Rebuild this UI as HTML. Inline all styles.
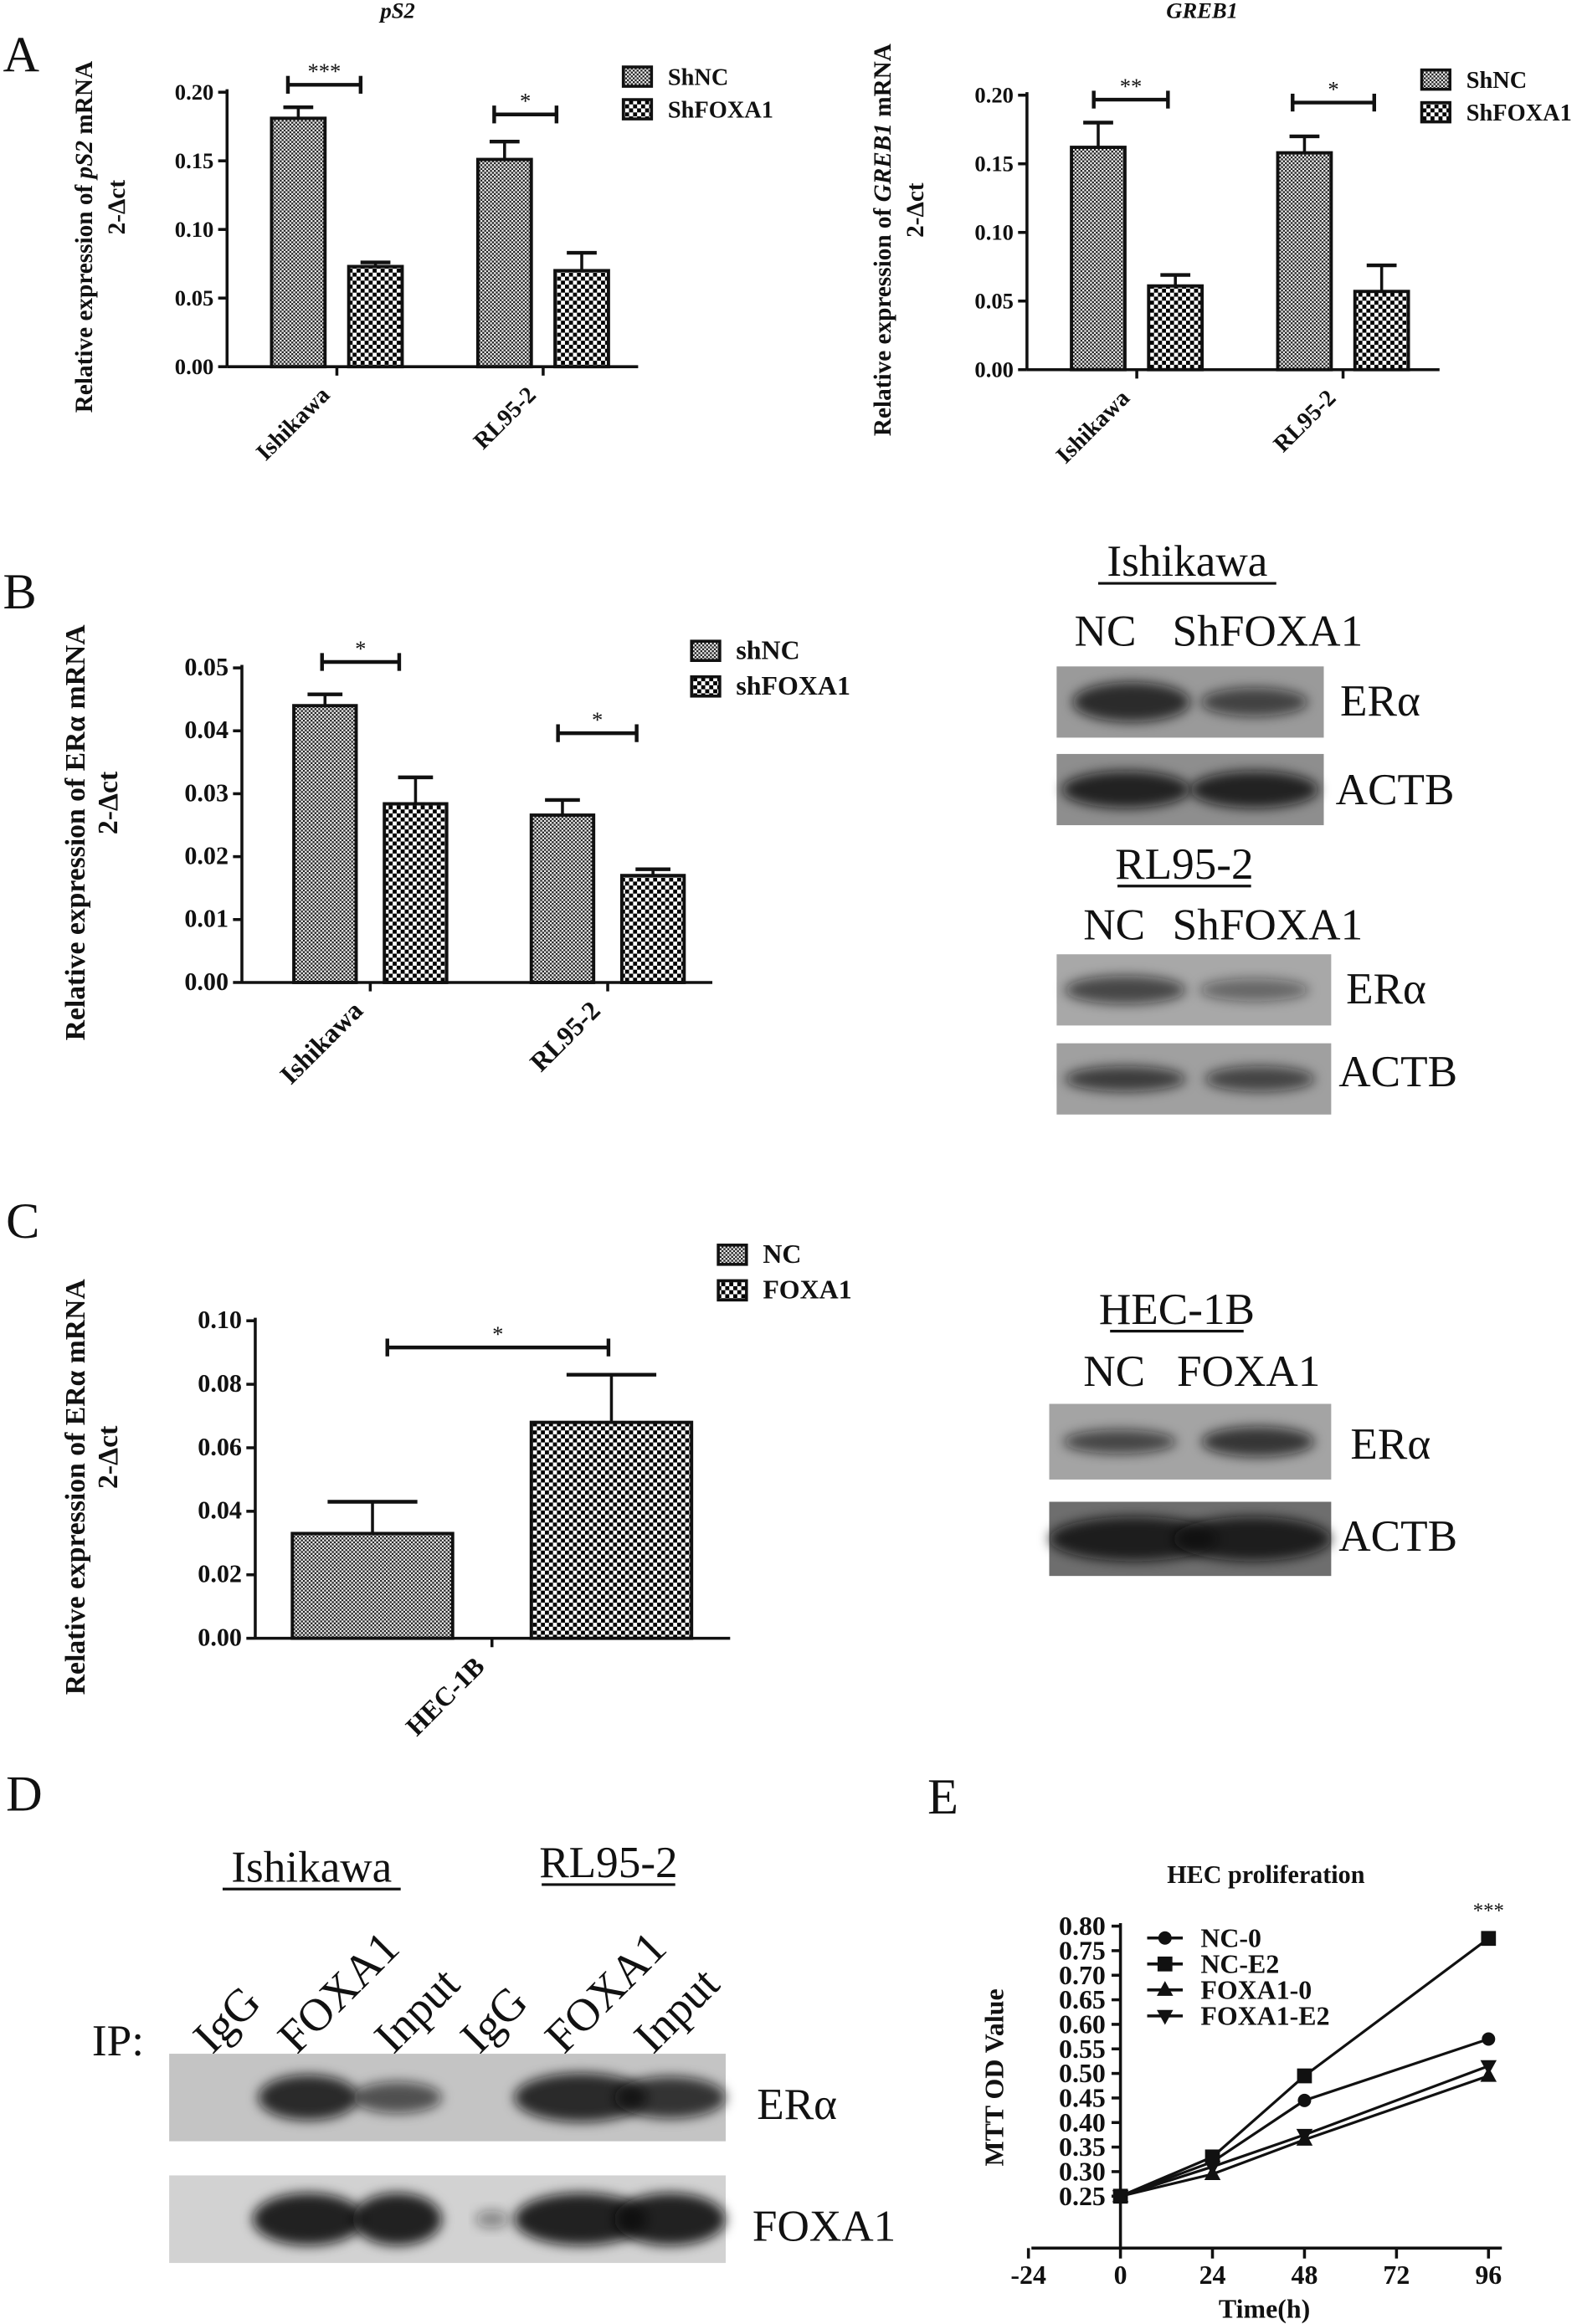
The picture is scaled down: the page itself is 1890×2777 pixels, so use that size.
<!DOCTYPE html>
<html><head><meta charset="utf-8"><style>
html,body{margin:0;padding:0;background:#fff}
svg{display:block}
text{font-family:"Liberation Serif",serif;fill:#111}
.b{font-weight:bold}
</style></head><body>
<svg id="fig" width="1890" height="2777" viewBox="0 0 1066 1566" xmlns="http://www.w3.org/2000/svg">
<defs>
<pattern id="fine" patternUnits="userSpaceOnUse" width="2.6" height="2.6"><rect width="2.6" height="2.6" fill="#eee"/><rect width="1.3" height="1.3" fill="#222"/><rect x="1.3" y="1.3" width="1.3" height="1.3" fill="#222"/></pattern>
<pattern id="coarse" patternUnits="userSpaceOnUse" width="5.4" height="5.4"><rect width="5.4" height="5.4" fill="#fff"/><rect width="2.7" height="2.7" fill="#000"/><rect x="2.7" y="2.7" width="2.7" height="2.7" fill="#000"/></pattern>
<filter id="blur" x="-20%" y="-50%" width="140%" height="200%"><feGaussianBlur stdDeviation="4"/></filter>
</defs>
<g id="root"></g>
</svg>
<script>
// ---------- data ----------
const catsA = ["Ishikawa","RL95-2"];
const pS2_nc = [0.181,0.151], pS2_nc_err=[0.189,0.164];
const pS2_sh = [0.073,0.070], pS2_sh_err=[0.076,0.083];
const greb_nc = [0.162,0.158], greb_nc_err=[0.180,0.170];
const greb_sh = [0.061,0.057], greb_sh_err=[0.069,0.076];
const ticksA = [0,0.05,0.10,0.15,0.20];
const erB_nc=[0.044,0.0266], erB_nc_err=[0.0458,0.029];
const erB_sh=[0.0284,0.017], erB_sh_err=[0.0326,0.018];
const ticksB=[0,0.01,0.02,0.03,0.04,0.05];
const catsC=["HEC-1B"];
const erC_nc=[0.033], erC_nc_err=[0.043];
const erC_fx=[0.068], erC_fx_err=[0.083];
const ticksC=[0,0.02,0.04,0.06,0.08,0.10];
const timesE=[0,24,48,96];
const nc0=[0.25,0.32,0.445,0.57];
const ncE2=[0.25,0.33,0.495,0.775];
const fx0=[0.25,0.295,0.365,0.495];
const fxE2=[0.25,0.31,0.375,0.515];
const ticksEy=[0.25,0.30,0.35,0.40,0.45,0.50,0.55,0.60,0.65,0.70,0.75,0.80];
const ticksEx=[-24,0,24,48,72,96];

const NS="http://www.w3.org/2000/svg";
const root=document.getElementById('root');
function el(tag,attrs,parent,txt){const e=document.createElementNS(NS,tag);for(const k in attrs)e.setAttribute(k,attrs[k]);if(txt!==undefined)e.textContent=txt;(parent||root).appendChild(e);return e;}
function line(x1,y1,x2,y2,w,p){return el('line',{x1,y1,x2,y2,stroke:'#111','stroke-width':w||2},p);}
function txt(x,y,s,size,p,extra){const a={x,y,'font-size':size};Object.assign(a,extra||{});return el('text',a,p,s);}

function barChart(o){
  const g=el('g',{});
  
  
  const ys=v=>o.y0-(v-o.ticks[0])/(o.ticks[o.ticks.length-1]-o.ticks[0])*(o.y0-o.ytop);
  line(o.ax,o.ytop-2,o.ax,o.y0,2,g);
  line(o.ax,o.y0,o.axEnd,o.y0,2,g);
  o.ticks.forEach(t=>{const y=ys(t);line(o.ax-6,y,o.ax,y,2,g);
    const tl=txt(o.ax-9,y+5,t.toFixed(o.dec),o.fs,g,{'text-anchor':'end','class':'b'});
    });
  o.series.forEach((s,si)=>{
    s.vals.forEach((v,i)=>{
      const x=o.x0+i*o.groupW+si*o.barStep;
      const ex=x+o.bw/2;
      line(ex,ys(s.err[i]),ex,ys(v),2,g);
      line(ex-o.bw*0.28,ys(s.err[i]),ex+o.bw*0.28,ys(s.err[i]),2.5,g);
      const r=el('rect',{x,y:ys(v),width:o.bw,height:o.y0-ys(v),fill:'url(#'+s.pat+')',stroke:'#111','stroke-width':2.2},g);
      
      
    });
  });
  o.cats.forEach((c,i)=>{
    const cx=o.x0+i*o.groupW+(o.barStep+o.bw)/2;
    line(cx,o.y0,cx,o.y0+6,2,g);
    const t=txt(cx-4,o.y0+20,c,o.fs+1,g,{'text-anchor':'end','class':'b',transform:'rotate(-45 '+(cx-4)+' '+(o.y0+20)+')'});
    
  });
  (o.sig||[]).forEach(s=>{
    line(s[0],s[2],s[1],s[2],2.5,g);line(s[0],s[2]-6,s[0],s[2]+6,2.5,g);line(s[1],s[2]-6,s[1],s[2]+6,2.5,g);
    txt((s[0]+s[1])/2,s[2]-4,s[3],15,g,{'text-anchor':'middle'});
  });
  o.legend.forEach((l,i)=>{
    const y=o.legY+i*o.legDy;
    el('rect',{x:o.legX,y:y-7,width:19,height:13,fill:'url(#'+l[1]+')',stroke:'#111','stroke-width':2},g);
    const lt=txt(o.legX+30,y+5,l[0],o.legFs,g,{'class':'b'});
    
  });
  const ly=(o.y0+o.ytop)/2+5;
  const yt=el('text',{x:o.ylx,y:ly,'font-size':o.yfs,'text-anchor':'middle','class':'b',transform:'rotate(-90 '+o.ylx+' '+ly+')'},g);
  
  o.ylab.forEach(p=>{el('tspan',p[1]?{'font-style':'italic'}:{},yt,p[0]);});
  el('text',{x:o.ylx+22,y:ly-20,'font-size':o.yfs,'text-anchor':'middle','class':'b',transform:'rotate(-90 '+(o.ylx+22)+' '+(ly-20)+')'},g,'2-Δct');
  if(o.title){const tt=txt(o.titleX,12,o.title,15,g,{'text-anchor':'middle','class':'b','font-style':'italic'});}
  return g;
}

// Panel letters
[['A',2,48],['B',2,410],['C',4,834],['D',4,1220],['E',625,1222]].forEach(p=>{const t=txt(p[1],p[2],p[0],34);});

barChart({name:'chart-ps2',ax:153,axEnd:430,y0:247,ytop:62,ticks:ticksA,dec:2,fs:15,yfs:16.5,cats:catsA,x0:183,groupW:139,barStep:52,bw:36,
 series:[{key:'shnc',vals:pS2_nc,err:pS2_nc_err,pat:'fine'},{key:'shfoxa1',vals:pS2_sh,err:pS2_sh_err,pat:'coarse'}],
 sig:[[194,243,57,'***'],[333,375,77,'*']],legend:[['ShNC','fine'],['ShFOXA1','coarse']],legX:420,legY:52,legDy:22,legFs:16,
 ylx:62,ylab:[['Relative expression of '],['pS2',1],[' mRNA']],title:'pS2',titleX:268});
barChart({name:'chart-greb1',ax:692,axEnd:970,y0:249,ytop:64,ticks:ticksA,dec:2,fs:15,yfs:16.5,cats:catsA,x0:722,groupW:139,barStep:52,bw:36,
 series:[{key:'shnc',vals:greb_nc,err:greb_nc_err,pat:'fine'},{key:'shfoxa1',vals:greb_sh,err:greb_sh_err,pat:'coarse'}],
 sig:[[737,787,67,'**'],[871,926,69,'*']],legend:[['ShNC','fine'],['ShFOXA1','coarse']],legX:958,legY:54,legDy:22,legFs:16,
 ylx:600,ylab:[['Relative expression of '],['GREB1',1],[' mRNA']],title:'GREB1',titleX:810});
barChart({name:'chart-era-b',ax:163,axEnd:480,y0:662,ytop:450,ticks:ticksB,dec:2,fs:17,yfs:19,cats:catsA,x0:198,groupW:160,barStep:61,bw:42,
 series:[{key:'shnc',vals:erB_nc,err:erB_nc_err,pat:'fine'},{key:'shfoxa1',vals:erB_sh,err:erB_sh_err,pat:'coarse'}],
 sig:[[217,269,446,'*'],[376,429,494,'*']],legend:[['shNC','fine'],['shFOXA1','coarse']],legX:466,legY:439,legDy:24,legFs:18,
 ylx:57,ylab:[['Relative expression of ERα  mRNA']]});
barChart({name:'chart-era-c',ax:172,axEnd:492,y0:1104,ytop:890,ticks:ticksC,dec:2,fs:17,yfs:19,cats:catsC,x0:197,groupW:0,barStep:161,bw:108,
 series:[{key:'nc',vals:erC_nc,err:erC_nc_err,pat:'fine'},{key:'foxa1',vals:erC_fx,err:erC_fx_err,pat:'coarse'}],
 sig:[[261,410,908,'*']],legend:[['NC','fine'],['FOXA1','coarse']],legX:484,legY:846,legDy:24,legFs:18,
 ylx:57,ylab:[['Relative expression of ERα  mRNA']]});

// ---------- blots ----------
function blot(name,x,y,w,h,bands,bg){
  const g=el('g',{});
  
  
  el('rect',{x,y,width:w,height:h,fill:bg||'#8a8a8a'},g);
  bands.forEach(b=>el('ellipse',{cx:x+b[0]*w,cy:y+h/2,rx:b[1]*w,ry:h*b[2],fill:'#111','fill-opacity':b[3],filter:'url(#blur)'},g));
  return g;
}
function label(x,y,s,size,name,anchor,u){const t=txt(x,y,s,size,null,{'text-anchor':anchor||'start'});
  if(u){const w=s.length*size*0.5;const x0=anchor==='middle'?x-w/2:x;line(x0,y+5,x0+w,y+5,1.8);}return t;}

label(800,388,'Ishikawa',30,'ishikawa-title','middle',true);
label(724,435,'NC',30,'nc-label');label(790,435,'ShFOXA1',30,'shfoxa1-label');
blot('blot-ishikawa-era',712,449,180,48,[[0.28,0.22,0.28,0.8],[0.74,0.2,0.2,0.65]],'#9a9a9a');
blot('blot-ishikawa-actb',712,508,180,48,[[0.26,0.24,0.26,0.85],[0.74,0.24,0.26,0.85]],'#8e8e8e');
label(903,482,'ERα',30,'era-label-1');label(900,542,'ACTB',30,'actb-label-1');
label(798,592,'RL95-2',30,'rl95-title','middle',true);
label(730,633,'NC',30,'nc-label-2');label(790,633,'ShFOXA1',30,'shfoxa1-label-2');
blot('blot-rl95-era',712,643,185,48,[[0.25,0.22,0.2,0.65],[0.72,0.2,0.16,0.45]],'#a8a8a8');
blot('blot-rl95-actb',712,703,185,48,[[0.25,0.22,0.18,0.7],[0.74,0.2,0.18,0.65]],'#a0a0a0');
label(907,676,'ERα',30,'era-label-2');label(902,732,'ACTB',30,'actb-label-2');
label(793,892,'HEC-1B',30,'hec1b-title','middle',true);
label(730,934,'NC',30,'nc-label-3');label(793,934,'FOXA1',30,'foxa1-label');
blot('blot-hec-era',707,946,190,51,[[0.25,0.2,0.16,0.65],[0.74,0.2,0.2,0.75]],'#a4a4a4');
blot('blot-hec-actb',707,1012,190,50,[[0.3,0.3,0.3,0.85],[0.72,0.28,0.3,0.85]],'#6e6e6e');
label(910,983,'ERα',30,'era-label-3');label(902,1045,'ACTB',30,'actb-label-3');

// Panel D
label(210,1268,'Ishikawa',30,'ishikawa-title-d','middle',true);
label(410,1265,'RL95-2',30,'rl95-title-d','middle',true);
label(62,1385,'IP:',30,'ip-label');
[['IgG',143],['FOXA1',200],['Input',265],['IgG',323],['FOXA1',380],['Input',440]].forEach(p=>{
  const t=txt(p[1],1385,p[0],31,null,{transform:'rotate(-45 '+p[1]+' 1385)'});});
blot('blot-ip-era',114,1384,375,59,[[0.25,0.09,0.26,0.85],[0.41,0.08,0.18,0.65],[0.74,0.12,0.28,0.85],[0.9,0.1,0.24,0.8]],'#c4c4c4');
blot('blot-ip-foxa1',114,1466,375,59,[[0.25,0.1,0.3,0.9],[0.41,0.08,0.3,0.9],[0.58,0.03,0.1,0.4],[0.74,0.12,0.3,0.9],[0.9,0.1,0.3,0.9]],'#d2d2d2');
label(510,1428,'ERα',30,'era-label-d');label(507,1510,'FOXA1',30,'foxa1-label-d');

// ---------- Panel E line chart ----------
(function(){
  const g=el('g',{});
  
  
  const xs=t=>755+(t-0)*(1003-755)/96;
  const ys=v=>1480-(v-0.25)*(1480-1298)/0.55;
  line(755,1296,755,1515,2,g);line(695,1515,1012,1515,2,g);
  ticksEy.forEach(t=>{line(749,ys(t),755,ys(t),2,g);const l=txt(745,ys(t)+6,t.toFixed(2),18,g,{'text-anchor':'end','class':'b'});});
  ticksEx.forEach(t=>{line(xs(t),1515,xs(t),1522,2,g);const l=txt(xs(t),1539,String(t),18,g,{'text-anchor':'middle','class':'b'});});
  const tt=txt(853,1269,'HEC proliferation',17,g,{'text-anchor':'middle','class':'b'});
  const xt=txt(852,1562,'Time(h)',18,g,{'text-anchor':'middle','class':'b'});
  const yt=txt(676,1400,'MTT OD Value',18,g,{'text-anchor':'middle','class':'b',transform:'rotate(-90 676 1400)'});
  txt(1003,1292,'***',14,g,{'text-anchor':'middle'});
  function marker(type,x,y,p){
    if(type==='circle')return el('circle',{cx:x,cy:y,r:4.5,fill:'#111'},p);
    if(type==='square')return el('rect',{x:x-5,y:y-5,width:10,height:10,fill:'#111'},p);
    if(type==='up')return el('polygon',{points:`${x},${y-6} ${x-5.5},${y+4} ${x+5.5},${y+4}`,fill:'#111'},p);
    return el('polygon',{points:`${x},${y+6} ${x-5.5},${y-4} ${x+5.5},${y-4}`,fill:'#111'},p);
  }
  const series=[['NC-0',nc0,'circle'],['NC-E2',ncE2,'square'],['FOXA1-0',fx0,'up'],['FOXA1-E2',fxE2,'down']];
  series.forEach((s,si)=>{
    const pl=el('polyline',{points:s[1].map((v,i)=>xs(timesE[i])+','+ys(v)).join(' '),fill:'none',stroke:'#111','stroke-width':1.8},g);
    
    
    s[1].forEach((v,i)=>{const m=marker(s[2],xs(timesE[i]),ys(v),g);
      
      });
    const ly=1306+si*17.5;
    line(773,ly,797,ly,2,g);marker(s[2],785,ly,g);
    const lt=txt(809,ly+6,s[0],18,g,{'class':'b'});
    
    
  });
})();
</script>
</body></html>
